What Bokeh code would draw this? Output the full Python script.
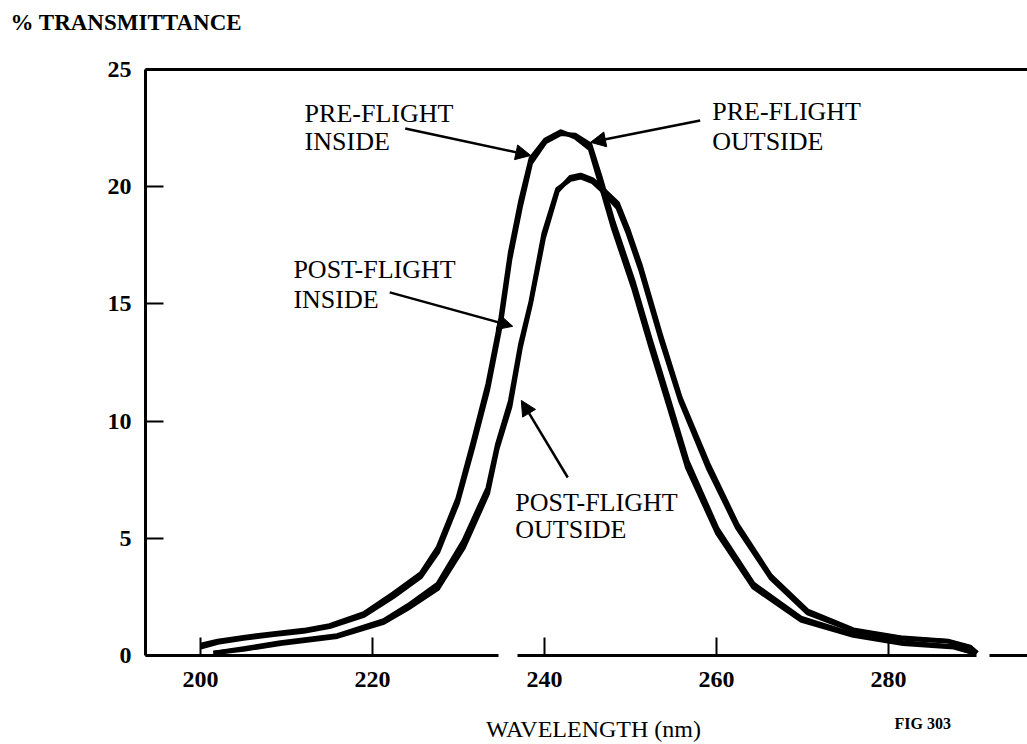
from bokeh.plotting import figure
from bokeh.models import Range1d, Label, Arrow, NormalHead, FixedTicker, LinearAxis
from bokeh.embed import file_html
from bokeh.resources import INLINE

# ---- data ----
x_ticks = [200, 220, 240, 260, 280]
y_ticks = [0, 5, 10, 15, 20, 25]

pre_wl = [200.0, 202.0, 205.0, 208.5, 212.0, 215.0, 219.0, 222.4, 225.6, 227.6, 229.9,
          231.7, 233.4, 234.9, 236.0, 237.2, 238.4, 240.1, 241.9, 243.6, 245.3, 246.5,
          248.0, 250.3, 252.3, 254.3, 256.6, 260.1, 264.3, 269.8, 275.9, 281.7, 287.6, 290.0]
pre_inside = [0.45, 0.62, 0.78, 0.94, 1.08, 1.28, 1.79, 2.64, 3.49, 4.6, 6.7,
              9.15, 11.6, 14.4, 17.2, 19.4, 21.2, 22.0, 22.35, 22.1, 21.6, 20.1,
              18.2, 15.7, 13.2, 10.8, 8.0, 5.2, 2.9, 1.5, 0.85, 0.5, 0.35, 0.1]
pre_outside = [0.35, 0.55, 0.72, 0.88, 1.02, 1.22, 1.7, 2.5, 3.35, 4.4, 6.5,
               8.9, 11.3, 14.1, 16.9, 19.1, 21.0, 21.9, 22.25, 22.2, 21.8, 20.4,
               18.5, 16.0, 13.5, 11.1, 8.3, 5.4, 3.05, 1.6, 0.9, 0.55, 0.38, 0.1]

post_wl = [201.5, 205.0, 209.3, 215.9, 221.3, 224.1, 227.6, 230.6, 233.4, 234.5, 236.0,
           237.2, 238.4, 239.9, 241.5, 243.0, 244.2, 245.6, 246.5, 248.5, 249.7, 251.2,
           253.5, 255.8, 259.0, 262.4, 266.3, 270.6, 275.9, 281.7, 286.9, 289.5, 290.3]
post_inside = [0.1, 0.3, 0.55, 0.85, 1.49, 2.13, 3.06, 4.9, 7.15, 9.0, 10.85,
               13.3, 15.1, 18.0, 19.9, 20.3, 20.4, 20.2, 19.9, 19.1, 18.0, 16.4,
               13.5, 10.85, 8.0, 5.45, 3.3, 1.8, 1.06, 0.72, 0.6, 0.34, 0.1]
post_outside = [0.1, 0.25, 0.5, 0.8, 1.4, 2.0, 2.85, 4.6, 6.9, 8.8, 10.6,
                13.1, 15.0, 17.8, 19.8, 20.4, 20.5, 20.3, 20.0, 19.3, 18.2, 16.6,
                13.7, 11.0, 8.2, 5.6, 3.4, 1.9, 1.1, 0.75, 0.62, 0.36, 0.1]

SERIF = "Liberation Serif"
X0, X1 = 176.74, 296.16
Y0, Y1 = -3.80, 27.94
AXIS_X = 193.6
# pieces of the (broken, scanned) wavelength axis line
x_axis_pieces = [(AXIS_X, 234.65), (236.86, 290.23), (291.74, X1)]

p = figure(width=1027, height=744,
           x_range=Range1d(X0, X1), y_range=Range1d(Y0, Y1),
           output_backend="svg", toolbar_location=None, min_border=0)
p.outline_line_color = None
p.grid.visible = False
p.background_fill_color = "white"
p.border_fill_color = "white"

def style_axis(ax):
    ax.axis_line_width = 3
    ax.axis_line_color = "black"
    ax.major_tick_in = 18
    ax.major_tick_out = 0
    ax.major_tick_line_width = 2
    ax.major_tick_line_color = "black"
    ax.minor_tick_line_color = None
    ax.major_label_text_font = SERIF
    ax.major_label_text_font_style = "bold"
    ax.major_label_text_font_size = "24px"
    ax.major_label_text_color = "black"

def bare_axis(ax):
    style_axis(ax)
    ax.major_tick_line_color = None
    ax.major_label_text_font_size = "0px"

xa = p.xaxis[0]
ya = p.yaxis[0]
style_axis(xa)
style_axis(ya)
xa.ticker = FixedTicker(ticks=x_ticks)
ya.ticker = FixedTicker(ticks=y_ticks)
xa.fixed_location = 0
xa.bounds = (AXIS_X, X1)
xa.axis_line_color = None
ya.fixed_location = AXIS_X
ya.bounds = (0, 25)
xa.major_label_standoff = 17
ya.major_label_standoff = 14

for a, b in x_axis_pieces:
    seg = LinearAxis(fixed_location=0, bounds=(a, b), ticker=FixedTicker(ticks=[]))
    bare_axis(seg)
    p.add_layout(seg, "below")

top = LinearAxis(fixed_location=25, bounds=(AXIS_X, X1), ticker=FixedTicker(ticks=[]))
bare_axis(top)
p.add_layout(top, "above")

for wl, vals in ((pre_wl, pre_inside), (pre_wl, pre_outside),
                 (post_wl, post_inside), (post_wl, post_outside)):
    p.line(wl, vals, line_color="black", line_width=4.5, line_join="round")

def add_text(txt, x, y, size, style="normal", align="left"):
    p.add_layout(Label(x=x, y=y, text=txt, text_font=SERIF, text_font_size=size,
                       text_font_style=style, text_color="black", text_align=align,
                       text_baseline="alphabetic"))

# annotation labels
add_text("PRE-FLIGHT", 212.1, 23.12, "26px")
add_text("INSIDE", 212.1, 21.93, "26px")
add_text("PRE-FLIGHT", 259.5, 23.2, "26px")
add_text("OUTSIDE", 259.5, 21.93, "26px")
add_text("POST-FLIGHT", 210.8, 16.48, "26px")
add_text("INSIDE", 210.8, 15.2, "26px")
add_text("POST-FLIGHT", 236.6, 6.54, "26px")
add_text("OUTSIDE", 236.6, 5.39, "26px")

# outer texts
add_text("% TRANSMITTANCE", 177.9, 27.0, "23px", "bold")
add_text("WAVELENGTH (nm)", 245.7, -3.14, "24px", "normal", "center")
add_text("FIG 303", 280.7, -2.9, "16px", "bold")

# arrows
for xs, ys, xe, ye in ((223.8, 22.48, 238.4, 21.33),
                       (258.1, 22.82, 245.35, 21.89),
                       (222.0, 15.49, 236.3, 14.04),
                       (242.7, 7.59, 237.3, 10.88)):
    p.add_layout(Arrow(end=NormalHead(size=15, fill_color="black", line_color="black"),
                       x_start=xs, y_start=ys, x_end=xe, y_end=ye,
                       line_color="black", line_width=2.5))

open("out.html", "w").write(file_html(p, INLINE))
